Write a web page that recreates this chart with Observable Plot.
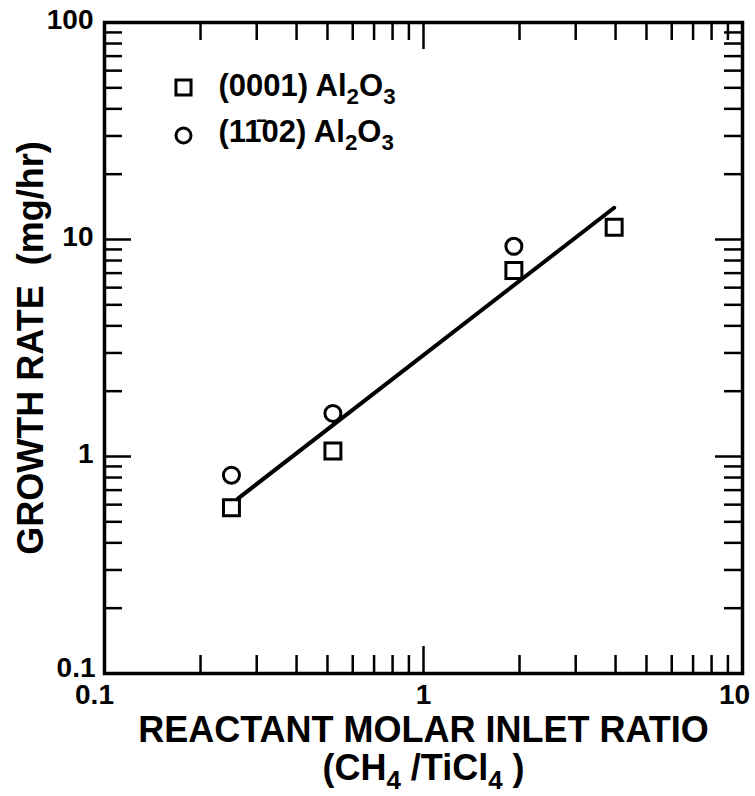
<!DOCTYPE html>
<html>
<head>
<meta charset="utf-8">
<script src="https://cdn.jsdelivr.net/npm/d3@7"></script>
<script src="https://cdn.jsdelivr.net/npm/@observablehq/plot@0.6"></script>
<style>
  html, body { margin: 0; padding: 0; background: white; }
</style>
</head>
<body>
<div id="chart"></div>
<script>
// ---- data ----
const squareX = [0.25, 0.52, 1.92, 3.96];        // (0001) Al2O3
const squareY = [0.58, 1.06, 7.2, 11.4];
const circleX = [0.25, 0.52, 1.92];               // (1-102) Al2O3
const circleY = [0.82, 1.58, 9.3];
const fitX = [0.262, 3.96];                       // fitted line end points
const fitY = [0.64, 14.0];

const xMinorTicks = [0.2,0.3,0.4,0.5,0.6,0.7,0.8,0.9,2,3,4,5,6,7,8,9];
const xMajorTicks = [1];
const yMinorTicks = [0.2,0.3,0.4,0.5,0.6,0.7,0.8,0.9,2,3,4,5,6,7,8,9,20,30,40,50,60,70,80,90];
const yMajorTicks = [1, 10];
const xTickLabels = [0.1, 1, 10];
const yTickLabels = [0.1, 1, 10, 100];

const legendLabels = ["(0001) Al_2O_3", "(11\u030402) Al_2O_3"];
const xTitle1 = "REACTANT MOLAR INLET RATIO";
const xTitle2 = "(CH_4 /TiCl_4 )";
const yTitle = "GROWTH RATE  (mg/hr)";

// ---- build tables ----
const squares = squareX.map((x, i) => ({x, y: squareY[i]}));
const circles = circleX.map((x, i) => ({x, y: circleY[i]}));
const fit = fitX.map((x, i) => ({x, y: fitY[i]}));

const W = 755, H = 796;
const M = {top: 22, right: 13, bottom: 123, left: 104};
const innerH = H - M.top - M.bottom;
const innerW = W - M.left - M.right;
const minorLen = 18, majorLen = 27;
const ink = "black";
const tickFont = 28;

const chart = Plot.plot({
  width: W, height: H,
  marginTop: M.top, marginRight: M.right, marginBottom: M.bottom, marginLeft: M.left,
  style: {fontFamily: "'Liberation Sans', Arial, sans-serif", fontWeight: "bold", color: ink, background: "white"},
  x: {type: "log", domain: [0.1, 10], axis: null},
  y: {type: "log", domain: [0.1, 100], axis: null},
  marks: [
    // inward ticks, bottom and top
    Plot.tickX(xMinorTicks, {x: d => d, insetTop: innerH - minorLen, stroke: ink, strokeWidth: 2.5}),
    Plot.tickX(xMajorTicks, {x: d => d, insetTop: innerH - majorLen, stroke: ink, strokeWidth: 2.5}),
    Plot.tickX(xMinorTicks, {x: d => d, insetBottom: innerH - minorLen, stroke: ink, strokeWidth: 2.5}),
    Plot.tickX(xMajorTicks, {x: d => d, insetBottom: innerH - majorLen, stroke: ink, strokeWidth: 2.5}),
    // inward ticks, left and right
    Plot.tickY(yMinorTicks, {y: d => d, insetRight: innerW - minorLen, stroke: ink, strokeWidth: 2.5}),
    Plot.tickY(yMajorTicks, {y: d => d, insetRight: innerW - majorLen, stroke: ink, strokeWidth: 2.5}),
    Plot.tickY(yMinorTicks, {y: d => d, insetLeft: innerW - minorLen, stroke: ink, strokeWidth: 2.5}),
    Plot.tickY(yMajorTicks, {y: d => d, insetLeft: innerW - majorLen, stroke: ink, strokeWidth: 2.5}),
    Plot.frame({stroke: ink, strokeWidth: 3.5}),
    // tick labels
    Plot.text([xTickLabels[0]], {x: d => d, text: d => String(d), frameAnchor: "bottom", lineAnchor: "top", dy: 11, dx: -10, fontSize: tickFont, fill: ink}),
    Plot.text([xTickLabels[1]], {x: d => d, text: d => String(d), frameAnchor: "bottom", lineAnchor: "top", dy: 11, fontSize: tickFont, fill: ink}),
    Plot.text([xTickLabels[2]], {x: d => d, text: d => String(d), frameAnchor: "bottom", lineAnchor: "top", dy: 11, dx: -8, fontSize: tickFont, fill: ink}),
    Plot.text([yTickLabels[0]], {y: d => d, text: d => String(d), frameAnchor: "left", textAnchor: "end", lineAnchor: "middle", dx: -9, dy: -5, fontSize: tickFont, fill: ink}),
    Plot.text(yTickLabels.slice(1), {y: d => d, text: d => String(d), frameAnchor: "left", textAnchor: "end", lineAnchor: "middle", dx: -11, dy: -2, fontSize: tickFont, fill: ink}),
    // fitted line and data
    Plot.dot(squares, {x: "x", y: "y", symbol: "square", r: 9, stroke: ink, strokeWidth: 3, fill: "none"}),
    Plot.dot(circles, {x: "x", y: "y", symbol: "circle", r: 8, stroke: ink, strokeWidth: 3, fill: "none"}),
    Plot.line(fit, {x: "x", y: "y", stroke: ink, strokeWidth: 4}),
    // legend
    Plot.dot([legendLabels[0]], {frameAnchor: "top-left", dx: 79, dy: 65, symbol: "square", r: 8.5, stroke: ink, strokeWidth: 3, fill: "none"}),
    Plot.dot([legendLabels[1]], {frameAnchor: "top-left", dx: 79, dy: 113, symbol: "circle", r: 7.5, stroke: ink, strokeWidth: 3, fill: "none"}),
    Plot.text([legendLabels[0]], {text: d => d, frameAnchor: "top-left", dx: 114, dy: 64, textAnchor: "start", lineAnchor: "middle", fontSize: 31, fill: ink}),
    Plot.text([legendLabels[1]], {text: d => d, frameAnchor: "top-left", dx: 114, dy: 110, textAnchor: "start", lineAnchor: "middle", fontSize: 31, fill: ink}),
    // axis titles
    Plot.text([yTitle], {text: d => d, frameAnchor: "left", textAnchor: "middle", lineAnchor: "middle", rotate: -90, dx: -73, fontSize: 36, fill: ink}),
    Plot.text([xTitle1], {text: d => d, frameAnchor: "bottom", textAnchor: "middle", lineAnchor: "middle", dy: 57, fontSize: 36, fill: ink}),
    Plot.text([xTitle2], {text: d => d, frameAnchor: "bottom", textAnchor: "middle", lineAnchor: "middle", dy: 95, fontSize: 36, fill: ink})
  ]
});

document.getElementById("chart").appendChild(chart);

// turn "_d" into subscript tspans
d3.select(chart).selectAll("text").each(function () {
  const t = this.textContent;
  if (!t.includes("_")) return;
  const fs = parseFloat(getComputedStyle(this).fontSize) || 20;
  const shift = fs * 0.26;
  const parts = t.split(/(_\d)/).filter(p => p);
  this.textContent = "";
  let down = false;
  for (const p of parts) {
    const ts = d3.select(this).append("tspan");
    if (p.startsWith("_")) {
      ts.text(p.slice(1)).attr("font-size", fs * 0.72);
      if (!down) { ts.attr("dy", shift); down = true; }
    } else {
      ts.text(p);
      if (down) { ts.attr("dy", -shift); down = false; }
    }
  }
});
</script>
</body>
</html>
